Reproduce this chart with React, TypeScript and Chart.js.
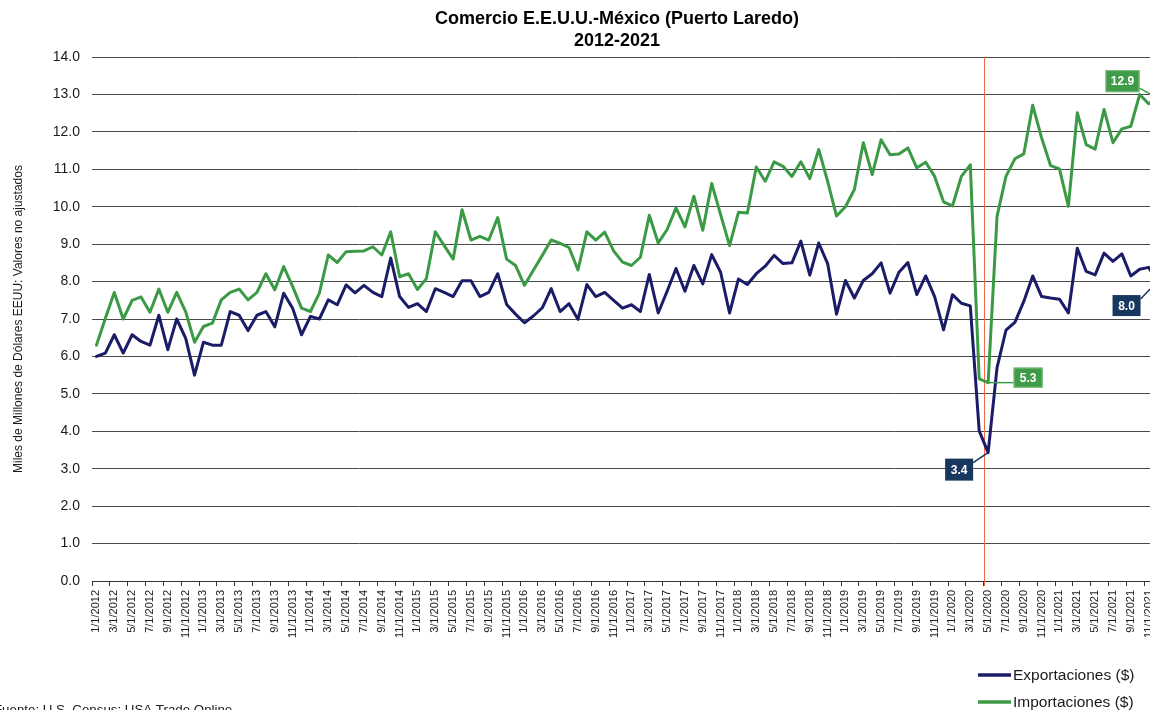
import React, { useEffect, useRef } from 'react';
import { Chart, registerables } from 'chart.js';

Chart.register(...registerables);

const FONT = '"Liberation Sans", Arial, Helvetica, sans-serif';

const YEARS = [2012, 2013, 2014, 2015, 2016, 2017, 2018, 2019, 2020, 2021];
const MONTHS = [1, 2, 3, 4, 5, 6, 7, 8, 9, 10, 11, 12];
const categories: string[] = YEARS.flatMap((y) => MONTHS.map((m) => `${m}/1/${y}`));

const exportaciones = [
  6.0, 6.09, 6.58, 6.09, 6.58, 6.4, 6.3, 7.1, 6.18, 7.0, 6.49, 5.5,
  6.38, 6.3, 6.3, 7.2, 7.1, 6.69, 7.1, 7.2, 6.79, 7.69, 7.29, 6.58,
  7.07, 7.0, 7.51, 7.38, 7.91, 7.7, 7.9, 7.71, 7.6, 8.63, 7.6, 7.31,
  7.41, 7.2, 7.81, 7.71, 7.6, 8.02, 8.02, 7.6, 7.71, 8.21, 7.39, 7.13,
  6.9, 7.08, 7.3, 7.81, 7.2, 7.41, 6.99, 7.92, 7.6, 7.71, 7.5, 7.29,
  7.38, 7.2, 8.19, 7.16, 7.74, 8.35, 7.74, 8.43, 7.94, 8.72, 8.25, 7.16,
  8.07, 7.92, 8.21, 8.41, 8.7, 8.48, 8.5, 9.08, 8.17, 9.03, 8.48, 7.13,
  8.03, 7.56, 8.03, 8.21, 8.5, 7.69, 8.25, 8.51, 7.65, 8.15, 7.6, 6.71,
  7.65, 7.42, 7.35, 4.01, 3.43, 5.7, 6.7, 6.91, 7.47, 8.15, 7.6, 7.56,
  7.53, 7.16, 8.89, 8.27, 8.18, 8.76, 8.54, 8.74, 8.15, 8.33, 8.38, 8.0,
];

const importaciones = [
  6.3, 7.02, 7.71, 7.0, 7.5, 7.59, 7.18, 7.8, 7.18, 7.71, 7.2, 6.38,
  6.8, 6.89, 7.51, 7.71, 7.8, 7.51, 7.71, 8.21, 7.78, 8.4, 7.87, 7.29,
  7.2, 7.69, 8.71, 8.51, 8.8, 8.81, 8.82, 8.93, 8.71, 9.33, 8.13, 8.21,
  7.79, 8.08, 9.33, 8.96, 8.6, 9.92, 9.11, 9.21, 9.11, 9.71, 8.6, 8.43,
  7.9, 8.3, 8.7, 9.11, 9.02, 8.91, 8.31, 9.33, 9.11, 9.32, 8.82, 8.52,
  8.43, 8.65, 9.77, 9.03, 9.39, 9.97, 9.46, 10.28, 9.37, 10.62, 9.79, 8.96,
  9.85, 9.83, 11.06, 10.68, 11.2, 11.08, 10.81, 11.2, 10.75, 11.53, 10.68, 9.75,
  10.0, 10.46, 11.71, 10.86, 11.79, 11.39, 11.41, 11.57, 11.04, 11.19, 10.81, 10.13,
  10.02, 10.81, 11.12, 5.4, 5.3, 9.74, 10.81, 11.28, 11.41, 12.71, 11.84, 11.1,
  11.01, 10.01, 12.51, 11.66, 11.54, 12.6, 11.71, 12.08, 12.15, 13.0, 12.75, 12.9,
];

const seriesNames = ['Exportaciones ($)', 'Importaciones ($)'];
const seriesColors = ['#1b1c68', '#3b9a45'];
const calloutFills = ['#17375e', '#3f9b47'];

const titleLines = ['Comercio E.E.U.U.-México (Puerto Laredo)', '2012-2021'];
const yAxisTitle = 'Miles de Millones de Dólares EEUU: Valores no ajustados';
const sourceNote = 'Fuente: U.S. Census: USA Trade Online';

const Y_MIN = 0;
const Y_MAX = 14;
const Y_STEP = 1;

// callouts: which series / category, shown text, box offset from the point
const callouts = [
  { series: 0, index: 100, text: '3.4', dx: -29, dy: 17, w: 28, h: 22 },
  { series: 1, index: 100, text: '5.3', dx: 40, dy: -5, w: 29, h: 20 },
  { series: 1, index: 119, text: '12.9', dx: -35, dy: -17, w: 34, h: 22 },
  { series: 0, index: 119, text: '8.0', dx: -31, dy: 24, w: 28, h: 21 },
];

// boundary between 4/1/2020 and 5/1/2020
const markerBoundary = 99.5;

const decorPlugin = {
  id: 'decor',
  beforeDatasetsDraw(chart: any) {
    const { ctx, chartArea, scales } = chart;
    const x = Math.round(scales.x.getPixelForValue(markerBoundary)) + 0.5;
    ctx.save();
    ctx.strokeStyle = '#f0694a';
    ctx.lineWidth = 1;
    ctx.beginPath();
    ctx.moveTo(x, chartArea.top);
    ctx.lineTo(x, chartArea.bottom + 5);
    ctx.stroke();
    ctx.restore();
  },
  afterDraw(chart: any) {
    const { ctx, scales } = chart;
    ctx.save();
    // title
    ctx.fillStyle = '#000';
    ctx.textAlign = 'center';
    ctx.textBaseline = 'middle';
    ctx.font = `bold 18px ${FONT}`;
    ctx.fillText(titleLines[0], 617, 19);
    ctx.fillText(titleLines[1], 617, 41);

    // callouts
    callouts.forEach((c) => {
      const data = chart.data.datasets[c.series].data as number[];
      const px = scales.x.getPixelForValue(c.index);
      const py = scales.y.getPixelForValue(data[c.index]);
      const cx = px + c.dx;
      const cy = py + c.dy;
      const bx = cx - c.w / 2;
      const by = cy - c.h / 2;
      const ex = Math.min(Math.max(px, bx), bx + c.w);
      const ey = Math.min(Math.max(py, by + 4), by + c.h - 4);
      ctx.strokeStyle = calloutFills[c.series];
      ctx.lineWidth = 1.5;
      ctx.beginPath();
      ctx.moveTo(ex, ey);
      ctx.lineTo(px, py);
      ctx.stroke();
      ctx.fillStyle = calloutFills[c.series];
      ctx.fillRect(bx, by, c.w, c.h);
      if (c.series === 1) {
        ctx.strokeStyle = '#7cc07e';
        ctx.lineWidth = 1;
        ctx.strokeRect(bx + 0.5, by + 0.5, c.w - 1, c.h - 1);
      }
      ctx.fillStyle = '#ffffff';
      ctx.font = `bold 12px ${FONT}`;
      ctx.textAlign = 'center';
      ctx.textBaseline = 'middle';
      ctx.fillText(c.text, cx, cy + 1);
    });

    // legend
    const legendY = [675, 702];
    seriesNames.forEach((name, i) => {
      ctx.strokeStyle = seriesColors[i];
      ctx.lineWidth = 3.5;
      ctx.beginPath();
      ctx.moveTo(978, legendY[i]);
      ctx.lineTo(1011, legendY[i]);
      ctx.stroke();
      ctx.fillStyle = '#1a1a1a';
      ctx.font = `15.5px ${FONT}`;
      ctx.textAlign = 'left';
      ctx.textBaseline = 'middle';
      ctx.fillText(name, 1013, legendY[i] + 1);
    });

    // source note
    ctx.fillStyle = '#1a1a1a';
    ctx.font = `13.3px ${FONT}`;
    ctx.textAlign = 'left';
    ctx.textBaseline = 'alphabetic';
    ctx.fillText(sourceNote, -6, 714);
    ctx.restore();
  },
};

export default function App() {
  const ref = useRef<HTMLCanvasElement | null>(null);

  useEffect(() => {
    if (!ref.current) return;
    const chart = new Chart(ref.current, {
      type: 'line',
      data: {
        labels: categories,
        datasets: [
          {
            label: seriesNames[0],
            data: exportaciones,
            borderColor: seriesColors[0],
            backgroundColor: seriesColors[0],
            borderWidth: 3,
            pointRadius: 0,
            tension: 0,
            borderJoinStyle: 'round',
            borderCapStyle: 'round',
          },
          {
            label: seriesNames[1],
            data: importaciones,
            borderColor: seriesColors[1],
            backgroundColor: seriesColors[1],
            borderWidth: 3,
            pointRadius: 0,
            tension: 0,
            borderJoinStyle: 'round',
            borderCapStyle: 'round',
          },
        ],
      },
      options: {
        responsive: false,
        animation: false,
        layout: { padding: { top: 57, right: 20, bottom: 0, left: 0 } },
        plugins: {
          legend: { display: false },
          title: { display: false },
          tooltip: { enabled: false },
        },
        scales: {
          x: {
            type: 'category',
            offset: true,
            afterFit: (scale: any) => {
              scale.height = 129;
            },
            grid: {
              offset: true,
              drawOnChartArea: false,
              drawTicks: true,
              tickLength: 5,
              color: (ctx: any) => (ctx.index % 2 === 0 ? '#333333' : 'rgba(0,0,0,0)'),
            },
            border: { display: true, color: '#333333', width: 1 },
            ticks: {
              autoSkip: false,
              maxRotation: 90,
              minRotation: 90,
              padding: 4,
              color: '#1a1a1a',
              font: { family: FONT, size: 11 },
              callback: (_v: any, i: number) => (i % 2 === 0 ? categories[i] : ''),
            },
          },
          y: {
            min: Y_MIN,
            max: Y_MAX,
            afterFit: (scale: any) => {
              scale.width = 92;
            },
            border: { display: false },
            grid: { color: '#4a4a4a', lineWidth: 1, drawTicks: false },
            ticks: {
              stepSize: Y_STEP,
              padding: 12,
              color: '#1a1a1a',
              font: { family: FONT, size: 14 },
              callback: (v: any) => Number(v).toFixed(1),
            },
            title: {
              display: true,
              text: yAxisTitle,
              color: '#1a1a1a',
              font: { family: FONT, size: 12 },
              padding: { top: 11, bottom: 0 },
            },
          },
        },
      },
      plugins: [decorPlugin],
    });
    return () => chart.destroy();
  }, []);

  return (
    <div
      style={{
        position: 'absolute',
        left: 0,
        top: 0,
        width: 1150,
        height: 710,
        overflow: 'hidden',
        background: '#ffffff',
      }}
    >
      <canvas ref={ref} width={1182} height={710} style={{ display: 'block' }} />
    </div>
  );
}
